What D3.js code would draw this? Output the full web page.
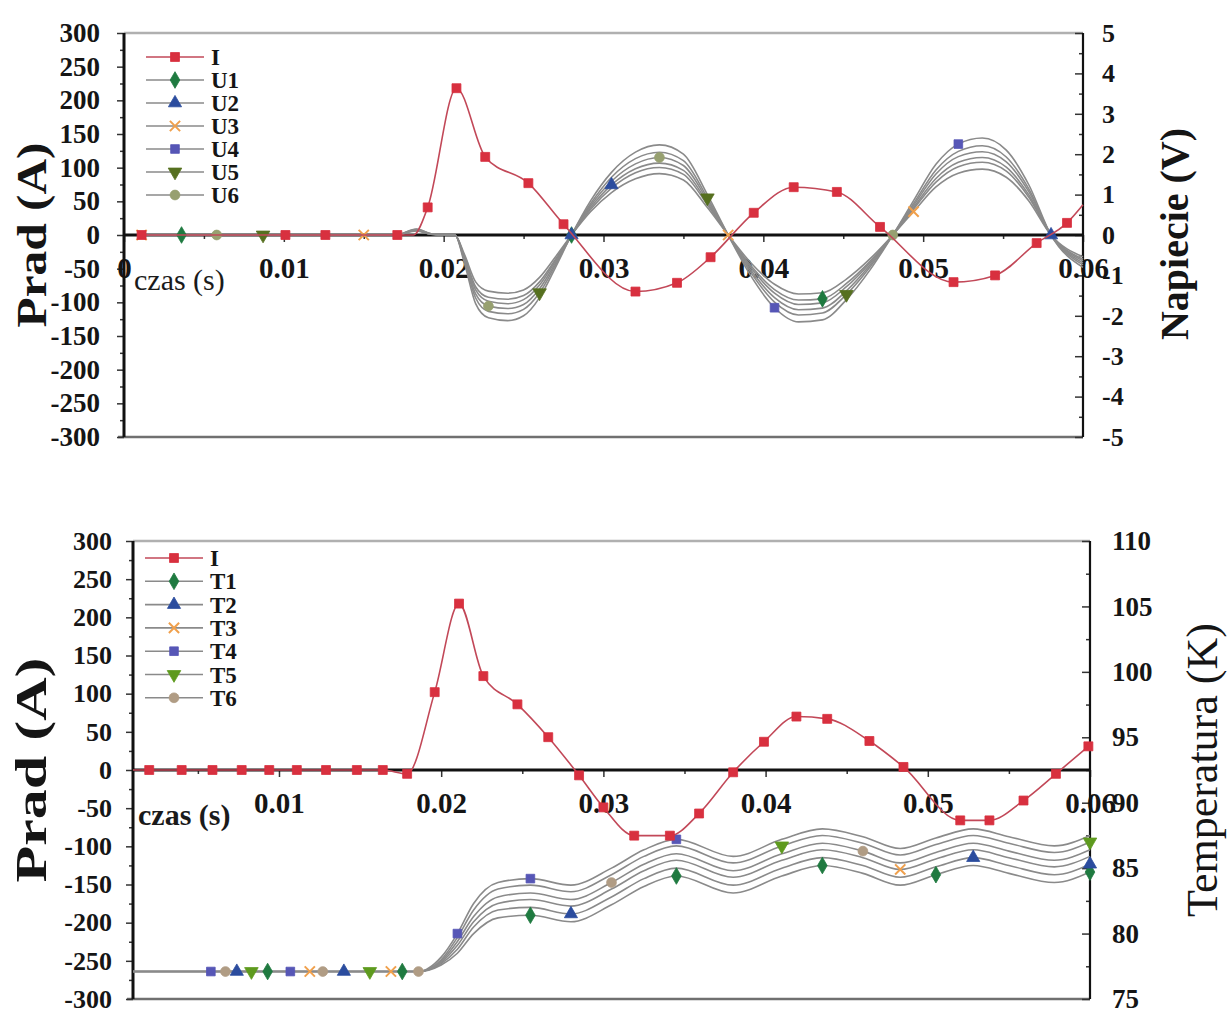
<!DOCTYPE html>
<html>
<head>
<meta charset="utf-8">
<script src="https://cdn.jsdelivr.net/npm/d3@7/dist/d3.min.js"></script>
<style>
  html, body { margin: 0; padding: 0; background: #ffffff; }
  svg { display: block; }
</style>
</head>
<body>
<svg id="fig" width="1227" height="1014"></svg>
<script>
// ---------------- Upper panel: current I (A) and voltages U1..U6 (V) ----------------
const currentTimeA = [0.0011, 0.0101, 0.0126, 0.0171, 0.0181, 0.0190, 0.0208, 0.0226, 0.0253, 0.0275, 0.0320,
                      0.0346, 0.0367, 0.0394, 0.0419, 0.0446, 0.0473, 0.0519, 0.0545, 0.0571, 0.0590, 0.0600];
const currentA     = [0, 0, 0, 0, 0, 41, 218, 116, 77, 16, -84,
                      -71, -33, 33, 71, 64, 12, -70, -60, -12, 18, 45];
const currentMarksA = [0, 1, 2, 3, 5, 6, 7, 8, 9, 10, 11, 12, 13, 14, 15, 16, 17, 18, 19, 20];

const voltTime = [0.0011, 0.0036, 0.0058, 0.0087, 0.0101, 0.0126, 0.0150, 0.0170, 0.0183, 0.0192, 0.0200,
                  0.0207, 0.0213, 0.0220, 0.0228, 0.0240, 0.0250, 0.0260, 0.0270, 0.0280, 0.0292, 0.0305,
                  0.0320, 0.0335, 0.0350, 0.0365, 0.0378, 0.0392, 0.0407, 0.0422, 0.0437, 0.0452, 0.0467,
                  0.0481, 0.0494, 0.0508, 0.0522, 0.0537, 0.0552, 0.0566, 0.0580, 0.0600];
const voltU1 = [0, 0, 0, 0, 0, 0, 0, 0, 0.11, 0.02, 0, 0, -0.53, -1.28, -1.54, -1.59, -1.50, -1.16, -0.60, 0,
                0.64, 1.16, 1.54, 1.67, 1.50, 0.75, 0, -0.75, -1.35, -1.61, -1.58, -1.20, -0.64, 0,
                0.64, 1.31, 1.69, 1.80, 1.58, 0.94, 0, -0.60];
const voltU2 = [0, 0, 0, 0, 0, 0, 0, 0, 0.12, 0.02, 0, 0, -0.56, -1.36, -1.64, -1.70, -1.60, -1.24, -0.64, 0,
                0.68, 1.24, 1.64, 1.78, 1.60, 0.80, 0, -0.80, -1.44, -1.72, -1.68, -1.28, -0.68, 0,
                0.68, 1.40, 1.80, 1.92, 1.68, 1.00, 0, -0.64];
const voltU3 = [0, 0, 0, 0, 0, 0, 0, 0, 0.10, 0.02, 0, 0, -0.48, -1.16, -1.39, -1.44, -1.36, -1.05, -0.54, 0,
                0.58, 1.05, 1.39, 1.52, 1.36, 0.68, 0, -0.68, -1.22, -1.46, -1.43, -1.09, -0.58, 0,
                0.58, 1.19, 1.53, 1.63, 1.43, 0.85, 0, -0.54];
const voltU4 = [0, 0, 0, 0, 0, 0, 0, 0, 0.15, 0.03, 0, 0, -0.70, -1.70, -2.05, -2.12, -2.00, -1.55, -0.80, 0,
                0.85, 1.55, 2.05, 2.23, 2.00, 1.00, 0, -1.00, -1.80, -2.15, -2.10, -1.60, -0.85, 0,
                0.85, 1.75, 2.25, 2.40, 2.10, 1.25, 0, -0.80];
const voltU5 = [0, 0, 0, 0, 0, 0, 0, 0, 0.14, 0.03, 0, 0, -0.64, -1.56, -1.89, -1.95, -1.84, -1.43, -0.74, 0,
                0.78, 1.43, 1.89, 2.05, 1.84, 0.92, 0, -0.92, -1.66, -1.98, -1.93, -1.47, -0.78, 0,
                0.78, 1.61, 2.07, 2.21, 1.93, 1.15, 0, -0.74];
const voltU6 = [0, 0, 0, 0, 0, 0, 0, 0, 0.13, 0.03, 0, 0, -0.60, -1.46, -1.76, -1.82, -1.72, -1.33, -0.69, 0,
                0.73, 1.33, 1.76, 1.92, 1.72, 0.86, 0, -0.86, -1.55, -1.85, -1.81, -1.38, -0.73, 0,
                0.73, 1.51, 1.94, 2.06, 1.81, 1.08, 0, -0.69];
// indices of voltTime points that carry a symbol
const voltMarks = {
  U1: [1, 19, 30],
  U2: [19, 21, 40],
  U3: [0, 6, 26, 34],
  U4: [28, 36],
  U5: [3, 17, 25, 31],
  U6: [2, 14, 23, 33]
};

// ---------------- Lower panel: current I (A) and temperatures T1..T6 (K) ----------------
const currentTimeB = [0.0010, 0.0020, 0.0040, 0.0059, 0.0077, 0.0094, 0.0111, 0.0129, 0.0148, 0.0164,
                      0.0179, 0.0196, 0.0211, 0.0226, 0.0247, 0.0266, 0.0285, 0.0300, 0.0319, 0.0341,
                      0.0359, 0.0380, 0.0399, 0.0419, 0.0438, 0.0464, 0.0485, 0.0520, 0.0538, 0.0559,
                      0.0579, 0.0599];
const currentB     = [0, 0, 0, 0, 0, 0, 0, 0, 0, 0,
                      -5, 102, 218, 123, 86, 43, -7, -49, -86, -86,
                      -57, -3, 37, 70, 67, 38, 4, -66, -66, -40,
                      -5, 31];
const currentMarksB = d3.range(1, currentTimeB.length);

const tempTime = [0.0010, 0.0058, 0.0067, 0.0074, 0.0083, 0.0093, 0.0107, 0.0119, 0.0127, 0.0140, 0.0156,
                  0.0169, 0.0176, 0.0186, 0.0200, 0.0210, 0.0220, 0.0235, 0.0255, 0.0280, 0.0305, 0.0325,
                  0.0345, 0.0380, 0.0410, 0.0435, 0.0460, 0.0483, 0.0505, 0.0528, 0.0550, 0.0578, 0.0600];
const tempT1 = [77.1, 77.1, 77.1, 77.1, 77.1, 77.1, 77.1, 77.1, 77.1, 77.1, 77.1, 77.1, 77.1, 77.1,
                77.6, 78.5, 80.0, 81.2, 81.4, 80.9, 82.2, 83.6, 84.4, 83.1, 84.4, 85.2, 84.6, 83.7, 84.5, 85.2, 84.6, 83.9, 84.7];
const tempT2 = [77.1, 77.1, 77.1, 77.1, 77.1, 77.1, 77.1, 77.1, 77.1, 77.1, 77.1, 77.1, 77.1, 77.1,
                77.7, 78.8, 80.5, 81.8, 82.0, 81.5, 82.8, 84.2, 85.0, 83.7, 85.0, 85.8, 85.2, 84.3, 85.1, 85.8, 85.2, 84.5, 85.3];
const tempT3 = [77.1, 77.1, 77.1, 77.1, 77.1, 77.1, 77.1, 77.1, 77.1, 77.1, 77.1, 77.1, 77.1, 77.1,
                77.8, 79.1, 80.9, 82.3, 82.6, 82.1, 83.4, 84.8, 85.6, 84.3, 85.6, 86.4, 85.8, 84.9, 85.7, 86.4, 85.8, 85.1, 85.9];
const tempT4 = [77.1, 77.1, 77.1, 77.1, 77.1, 77.1, 77.1, 77.1, 77.1, 77.1, 77.1, 77.1, 77.1, 77.1,
                78.2, 80.0, 82.3, 83.9, 84.2, 83.7, 85.0, 86.4, 87.2, 85.9, 87.2, 88.0, 87.4, 86.5, 87.3, 88.0, 87.4, 86.7, 87.5];
const tempT5 = [77.1, 77.1, 77.1, 77.1, 77.1, 77.1, 77.1, 77.1, 77.1, 77.1, 77.1, 77.1, 77.1, 77.1,
                78.0, 79.7, 81.8, 83.4, 83.7, 83.2, 84.5, 85.9, 86.7, 85.4, 86.7, 87.5, 86.9, 86.0, 86.8, 87.5, 86.9, 86.2, 87.0];
const tempT6 = [77.1, 77.1, 77.1, 77.1, 77.1, 77.1, 77.1, 77.1, 77.1, 77.1, 77.1, 77.1, 77.1, 77.1,
                77.9, 79.4, 81.3, 82.8, 83.1, 82.6, 83.9, 85.3, 86.1, 84.8, 86.1, 86.9, 86.3, 85.4, 86.2, 86.9, 86.3, 85.6, 86.4];
const tempMarks = {
  T1: [5, 12, 18, 22, 25, 28, 32],
  T2: [3, 9, 19, 29, 32],
  T3: [7, 11, 27],
  T4: [1, 6, 15, 18, 22],
  T5: [4, 10, 24, 32],
  T6: [2, 8, 13, 20, 26]
};

// tick values and labels
const currentTicks = d3.range(-300, 301, 50);
const currentMinor = d3.range(-275, 300, 50);
const voltTicks = d3.range(-5, 6, 1);
const voltMinor = d3.range(-4.5, 5, 1);
const tempTicks = d3.range(75, 111, 5);
const tempMinor = d3.range(77.5, 110, 5);
const timeTicksA = [0, 0.01, 0.02, 0.03, 0.04, 0.05, 0.06];
const timeTicksB = [0.01, 0.02, 0.03, 0.04, 0.05, 0.06];
const timeMinor = [0.005, 0.015, 0.025, 0.035, 0.045, 0.055];

// ---------------- drawing ----------------
const FONT = '"Liberation Serif", "Times New Roman", Times, serif';
const svg = d3.select('#fig');

const looks = {
  I:  { color: '#d8303f', line: '#c24858', symbol: 'square', size: 80 },
  U1: { color: '#1f7a40', symbol: 'diamond', size: 80 },
  U2: { color: '#2b4c9e', symbol: 'triangle', size: 75 },
  U3: { color: '#f0a04c', symbol: 'times', size: 70 },
  U4: { color: '#5656b6', symbol: 'square', size: 75 },
  U5: { color: '#56701f', symbol: 'triangleDown', size: 80 },
  U6: { color: '#97a070', symbol: 'circle', size: 75 },
  T1: { color: '#1f7a40', symbol: 'diamond', size: 80 },
  T2: { color: '#2b4c9e', symbol: 'triangle', size: 75 },
  T3: { color: '#f0a04c', symbol: 'times', size: 70 },
  T4: { color: '#5656b6', symbol: 'square', size: 75 },
  T5: { color: '#5e9a1e', symbol: 'triangleDown', size: 80 },
  T6: { color: '#b09c84', symbol: 'circle', size: 75 }
};
const GREY = '#8a8a8a';

function markerPath(kind, size) {
  const types = {
    square: d3.symbolSquare, diamond: d3.symbolDiamond, triangle: d3.symbolTriangle,
    triangleDown: d3.symbolTriangle, circle: d3.symbolCircle, times: d3.symbolTimes || d3.symbolCross
  };
  return d3.symbol(types[kind], size)();
}

function drawMarker(g, x, y, st) {
  g.append('path')
    .attr('transform', `translate(${x},${y})${st.symbol === 'triangleDown' ? ' rotate(180)' : ''}`)
    .attr('d', markerPath(st.symbol, st.size))
    .attr('fill', st.symbol === 'times' ? 'none' : st.color)
    .attr('stroke', st.color)
    .attr('stroke-width', st.symbol === 'times' ? 2 : 0.8);
}

function drawSeries(g, xs, ys, times, values, marks, st, lineColor) {
  const pts = times.map((t, i) => [t, values[i]]);
  g.append('path').datum(pts)
    .attr('fill', 'none').attr('stroke', lineColor).attr('stroke-width', 1.6)
    .attr('d', d3.line().x(d => xs(d[0])).y(d => ys(d[1])).curve(d3.curveMonotoneX));
  marks.forEach(i => drawMarker(g, xs(pts[i][0]), ys(pts[i][1]), st));
}

function styleTickText(sel, size) {
  sel.selectAll('text')
    .attr('font-family', FONT).attr('font-size', size).attr('font-weight', 'bold').attr('fill', '#151515');
  sel.selectAll('line').attr('stroke', '#333').attr('stroke-width', 1.5);
  sel.select('.domain').remove();
}

function drawPanel(p) {
  const g = svg.append('g');
  const [x0, x1] = p.x.range();
  const [yb, yt] = p.y.range();

  // frame
  g.append('line').attr('x1', x0).attr('x2', x1).attr('y1', yt).attr('y2', yt)
    .attr('stroke', '#b0b0b0').attr('stroke-width', 2.5);
  g.append('line').attr('x1', x0 - 6).attr('x2', x1).attr('y1', yb).attr('y2', yb)
    .attr('stroke', '#707070').attr('stroke-width', 2.5);

  // left axis (current)
  const la = g.append('g').attr('transform', `translate(${x0},0)`)
    .call(d3.axisLeft(p.y).tickValues(currentTicks).tickSize(7).tickPadding(p.leftPad).tickFormat(d => String(d)));
  styleTickText(la, p.leftFont);
  const lm = g.append('g').attr('transform', `translate(${x0},0)`)
    .call(d3.axisLeft(p.y).tickValues(currentMinor).tickSize(4).tickFormat(''));
  styleTickText(lm, 10);

  // right axis (voltage / temperature), ticks pointing inwards
  const ra = g.append('g').attr('transform', `translate(${x1},0)`)
    .call(d3.axisRight(p.y2).tickValues(p.y2Ticks).tickSize(-8).tickPadding(p.rightPad).tickFormat(d => String(d)));
  styleTickText(ra, p.rightFont);
  const rm = g.append('g').attr('transform', `translate(${x1},0)`)
    .call(d3.axisRight(p.y2).tickValues(p.y2Minor).tickSize(-4).tickFormat(''));
  styleTickText(rm, 10);

  // time axis on the zero-current line
  const y0 = p.y(0);
  const xa = g.append('g').attr('transform', `translate(0,${y0})`)
    .call(d3.axisBottom(p.x).tickValues(p.xTicks).tickSize(7).tickPadding(15)
      .tickFormat(d => d === 0 ? '0' : d3.format('.2f')(d)));
  styleTickText(xa, 29);
  const xm = g.append('g').attr('transform', `translate(0,${y0})`)
    .call(d3.axisBottom(p.x).tickValues(timeMinor).tickSize(4).tickFormat(''));
  styleTickText(xm, 10);

  // axis lines
  g.append('line').attr('x1', x0).attr('x2', x0).attr('y1', yt).attr('y2', yb)
    .attr('stroke', '#111').attr('stroke-width', 3);
  g.append('line').attr('x1', x1).attr('x2', x1).attr('y1', yt).attr('y2', yb)
    .attr('stroke', '#111').attr('stroke-width', 2.2);
  g.append('line').attr('x1', x0).attr('x2', x1).attr('y1', y0).attr('y2', y0)
    .attr('stroke', '#111').attr('stroke-width', 3);

  // "czas (s)"
  g.append('text').attr('x', x0 + p.czasDx).attr('y', y0 + 55)
    .attr('font-family', FONT).attr('font-size', 30).attr('font-weight', p.czasWeight)
    .attr('fill', '#1a1a1a').text('czas (s)');

  // titles
  g.append('text')
    .attr('transform', `translate(${p.leftTitleX},${(yt + yb) / 2}) rotate(-90)`)
    .attr('text-anchor', 'middle').attr('font-family', FONT).attr('font-size', p.leftTitleSize)
    .attr('font-weight', 'bold').attr('fill', '#151515')
    .attr('textLength', p.leftTitleLength).attr('lengthAdjust', 'spacingAndGlyphs')
    .text('Prad (A)');
  g.append('text')
    .attr('transform', `translate(${p.rightTitleX},${p.rightTitleY}) rotate(-90)`)
    .attr('text-anchor', 'middle').attr('font-family', FONT).attr('font-size', p.rightTitleSize)
    .attr('font-weight', p.rightTitleWeight).attr('fill', '#151515').text(p.rightTitle);

  return g;
}

function drawLegend(g, names, x, y, dy) {
  names.forEach((n, i) => {
    const st = looks[n];
    const yy = y + i * dy;
    g.append('line').attr('x1', x).attr('x2', x + 58).attr('y1', yy).attr('y2', yy)
      .attr('stroke', n === 'I' ? st.line : GREY).attr('stroke-width', 1.6);
    drawMarker(g, x + 29, yy, st);
    g.append('text').attr('x', x + 65).attr('y', yy + 8)
      .attr('font-family', FONT).attr('font-size', 23).attr('font-weight', 'bold')
      .attr('fill', '#151515').text(n);
  });
}

// ----- upper panel -----
const xA = d3.scaleLinear().domain([0, 0.06]).range([124, 1083]);
const yA = d3.scaleLinear().domain([-300, 300]).range([437, 33]);
const vA = d3.scaleLinear().domain([-5, 5]).range([437, 33]);

const gA = drawPanel({
  x: xA, y: yA, y2: vA, y2Ticks: voltTicks, y2Minor: voltMinor, xTicks: timeTicksA,
  leftPad: 17, leftFont: 27, rightPad: 19, rightFont: 26,
  czasDx: 10, czasWeight: 'normal',
  leftTitleX: 46, leftTitleSize: 42, leftTitleLength: 185,
  rightTitleX: 1188, rightTitleY: 234, rightTitleSize: 40, rightTitleWeight: 'bold', rightTitle: 'Napiecie (V)'
});

const voltSeries = { U1: voltU1, U2: voltU2, U3: voltU3, U4: voltU4, U5: voltU5, U6: voltU6 };
Object.keys(voltSeries).forEach(k =>
  drawSeries(gA, xA, vA, voltTime, voltSeries[k], [], looks[k], GREY));
Object.keys(voltSeries).forEach(k =>
  voltMarks[k].forEach(i => drawMarker(gA, xA(voltTime[i]), vA(voltSeries[k][i]), looks[k])));
drawSeries(gA, xA, yA, currentTimeA, currentA, currentMarksA, looks.I, looks.I.line);
drawLegend(gA, ['I', 'U1', 'U2', 'U3', 'U4', 'U5', 'U6'], 146, 57, 23);

// ----- lower panel -----
const xB = d3.scaleLinear().domain([0.001, 0.06]).range([133, 1090]);
const yB = d3.scaleLinear().domain([-300, 300]).range([999, 541]);
const tB = d3.scaleLinear().domain([75, 110]).range([999, 541]);

const gB = drawPanel({
  x: xB, y: yB, y2: tB, y2Ticks: tempTicks, y2Minor: tempMinor, xTicks: timeTicksB,
  leftPad: 14, leftFont: 26, rightPad: 22, rightFont: 27,
  czasDx: 5, czasWeight: 'bold',
  leftTitleX: 46, leftTitleSize: 44, leftTitleLength: 225,
  rightTitleX: 1217, rightTitleY: 770, rightTitleSize: 44, rightTitleWeight: 'normal', rightTitle: 'Temperatura (K)'
});

const tempSeries = { T1: tempT1, T2: tempT2, T3: tempT3, T4: tempT4, T5: tempT5, T6: tempT6 };
Object.keys(tempSeries).forEach(k =>
  drawSeries(gB, xB, tB, tempTime, tempSeries[k], [], looks[k], GREY));
Object.keys(tempSeries).forEach(k =>
  tempMarks[k].forEach(i => drawMarker(gB, xB(tempTime[i]), tB(tempSeries[k][i]), looks[k])));
drawSeries(gB, xB, yB, currentTimeB, currentB, currentMarksB, looks.I, looks.I.line);
drawLegend(gB, ['I', 'T1', 'T2', 'T3', 'T4', 'T5', 'T6'], 145, 558, 23.3);
</script>
</body>
</html>
